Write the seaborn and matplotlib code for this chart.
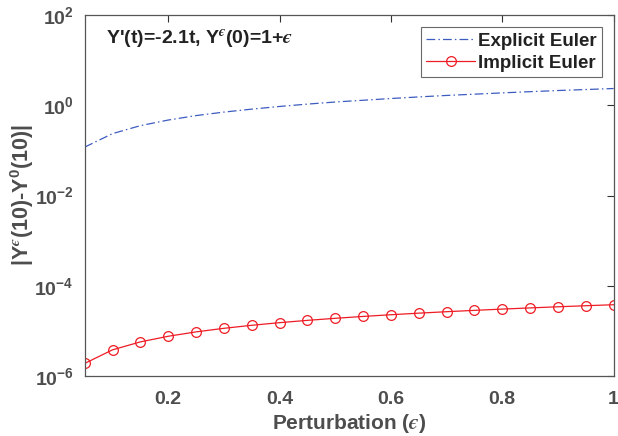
import matplotlib
matplotlib.use("Agg")
import matplotlib.pyplot as plt
import numpy as np
import pandas as pd
import seaborn as sns
from matplotlib.ticker import FixedLocator, FuncFormatter, NullLocator

# values
perturbation = [0.05, 0.10, 0.15, 0.20, 0.25, 0.30, 0.35, 0.40, 0.45, 0.50,
                0.55, 0.60, 0.65, 0.70, 0.75, 0.80, 0.85, 0.90, 0.95, 1.00]
explicit_err = [0.118, 0.235, 0.353, 0.47, 0.59, 0.705, 0.82, 0.94, 1.06, 1.18,
                1.29, 1.41, 1.53, 1.65, 1.76, 1.88, 2.00, 2.12, 2.23, 2.35]
implicit_err = [1.9e-6, 3.8e-6, 5.7e-6, 7.6e-6, 9.5e-6, 11.4e-6, 13.3e-6, 15.2e-6,
                17.1e-6, 19.0e-6, 20.9e-6, 22.8e-6, 24.7e-6, 26.6e-6, 28.5e-6,
                30.4e-6, 32.3e-6, 34.2e-6, 36.1e-6, 38.0e-6]
x_ticks = [0.2, 0.4, 0.6, 0.8, 1.0]
y_ticks = [1e-6, 1e-4, 1e-2, 1e0, 1e2]

sns.set_style("white")
plt.rcParams["font.family"] = ["Liberation Sans", "DejaVu Sans"]
plt.rcParams["font.weight"] = "bold"
plt.rcParams["mathtext.fontset"] = "custom"
plt.rcParams["mathtext.rm"] = "Liberation Sans:bold"
plt.rcParams["mathtext.it"] = "STIXGeneral:italic"
plt.rcParams["mathtext.bf"] = "Liberation Sans:bold"
plt.rcParams["mathtext.default"] = "rm"

# lunate epsilon (U+03F5), like MATLAB's \epsilon
EPS = "\\mathit{\u03f5}"

df_exp = pd.DataFrame({"eps": perturbation, "err": explicit_err})
df_imp = pd.DataFrame({"eps": perturbation, "err": implicit_err})

fig = plt.figure(figsize=(6.18, 4.36), dpi=100)
ax = fig.add_axes([0.137, 0.1376, 0.856, 0.828])

sns.lineplot(data=df_exp, x="eps", y="err", ax=ax, color="#3d5cc0", lw=0.9,
             linestyle=(0, (7, 2.5, 1.2, 2.5)), label="Explicit Euler")
sns.lineplot(data=df_imp, x="eps", y="err", ax=ax, color="#ee1c24", lw=0.9,
             marker="o", markersize=7, markerfacecolor="none",
             markeredgecolor="#ee1c24", markeredgewidth=0.9, label="Implicit Euler")

ax.set_yscale("log")
ax.set_xlim(0.05, 1.0)
ax.set_ylim(1e-6, 1e2)
ax.xaxis.set_major_locator(FixedLocator(x_ticks))
ax.yaxis.set_major_locator(FixedLocator(y_ticks))
ax.yaxis.set_minor_locator(NullLocator())
ax.xaxis.set_major_formatter(FuncFormatter(lambda v, p: f"{v:g}"))
ax.yaxis.set_major_formatter(FuncFormatter(lambda v, p: rf"$10^{{{int(round(np.log10(v)))}}}$"))

gray = "#4d4d4d"
ax.tick_params(direction="in", length=5, width=0.8, colors="#333333",
               labelcolor=gray, labelsize=14, top=True, right=True, pad=8)
ax.tick_params(axis="x", pad=11)
for s in ax.spines.values():
    s.set_color("#555555")
    s.set_linewidth(0.9)

ax.set_xlabel(rf"Perturbation (${EPS}$)", fontsize=15, color=gray, fontweight="bold", labelpad=3)
ax.set_ylabel(rf"$|Y^{{{EPS}}}(10)$-$Y^{{0}}(10)|$", fontsize=15.5, color=gray,
              fontweight="bold", labelpad=-1)

ax.text(0.04, 0.935, rf"Y'(t)=-2.1t, Y$^{{{EPS}}}$(0)=1+${EPS}$", transform=ax.transAxes,
        fontsize=14, fontweight="bold", color="#222222", va="center")

leg = ax.legend(loc="upper right", bbox_to_anchor=(0.978, 0.966), fontsize=13.5,
                frameon=True, fancybox=False, edgecolor="#444444",
                handlelength=2.6, handletextpad=0.15, borderpad=0.3, labelspacing=0.25,
                borderaxespad=0.0)
leg.get_frame().set_linewidth(0.8)
for t in leg.get_texts():
    t.set_color("#222222")

fig.savefig("out.png", dpi=100)
